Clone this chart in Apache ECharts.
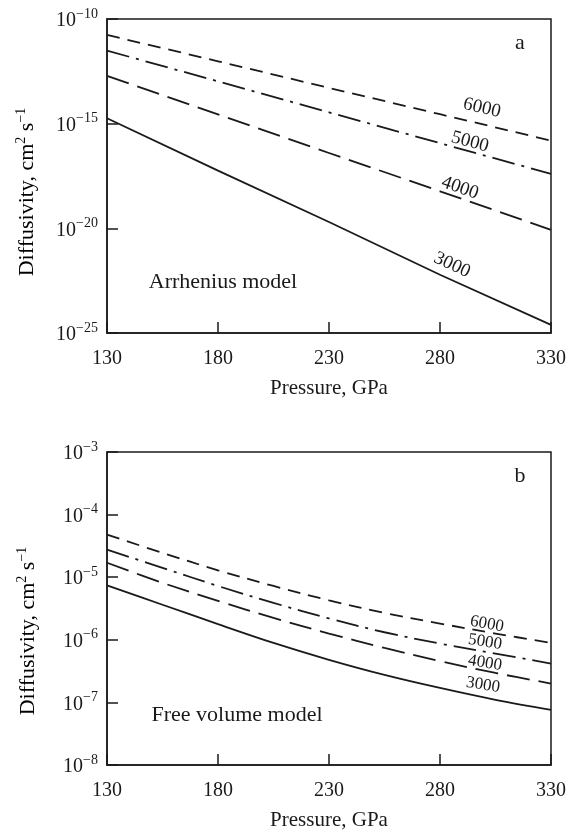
<!DOCTYPE html>
<html>
<head>
<meta charset="utf-8">
<script src="https://cdn.jsdelivr.net/npm/echarts@6/dist/echarts.min.js"></script>
<style>
  html, body { margin: 0; padding: 0; background: #fff; }
  #chart { width: 576px; height: 832px; }
</style>
</head>
<body>
<div id="chart"></div>
<script>
// Pressure grid for each panel (GPa)
var pressureTop = [130, 180, 230, 280, 330];
var pressureBottom = [130, 155, 180, 205, 230, 255, 280, 305, 330];

// (a) Arrhenius model, diffusivity in cm^2 s^-1
var arrhenius6000 = [1.74e-11, 9.55e-13, 5.13e-14, 2.82e-15, 1.55e-16];
var arrhenius5000 = [3.09e-12, 1.05e-13, 3.47e-15, 1.17e-16, 3.98e-18];
var arrhenius4000 = [1.91e-13, 2.75e-15, 3.98e-17, 5.89e-19, 8.51e-21];
var arrhenius3000 = [1.82e-15, 5.75e-18, 2.00e-20, 6.03e-23, 2.45e-25];

// (b) Free volume model
var freeVol6000 = [4.79e-5, 2.45e-5, 1.29e-5, 7.24e-6, 4.27e-6, 2.69e-6, 1.82e-6, 1.26e-6, 8.91e-7];
var freeVol5000 = [2.75e-5, 1.41e-5, 7.24e-6, 3.89e-6, 2.19e-6, 1.32e-6, 8.71e-7, 6.03e-7, 4.17e-7];
var freeVol4000 = [1.70e-5, 8.13e-6, 4.17e-6, 2.24e-6, 1.26e-6, 7.41e-7, 4.57e-7, 2.95e-7, 2.00e-7];
var freeVol3000 = [7.41e-6, 3.63e-6, 1.78e-6, 8.91e-7, 4.79e-7, 2.75e-7, 1.70e-7, 1.10e-7, 7.59e-8];

var temperatures = ['6000', '5000', '4000', '3000'];

// decade ranges of the two log axes (exponents)
var decadesTop = [-25, -10];
var decadesBottom = [-8, -3];

var ink = '#1a1a1a';
var serif = '"Liberation Serif", "DejaVu Serif", serif';

// dash patterns: short dash, dash-dot, long dash, solid
var dashTypes = [[13, 8], [23, 7, 3, 7], [23, 9], 'solid'];

// points on a log10 scale
function pairs(xs, ys) {
    return xs.map(function (x, i) { return [x, Math.log(ys[i]) / Math.LN10]; });
}

function powLabel(v) {
    var e = Math.round(v);
    return '{b|10}{s|' + (e < 0 ? '\u2212' + (-e) : e) + '}';
}

var labelRich = {
    b: { fontSize: 20, fontFamily: serif, color: ink, lineHeight: 24, verticalAlign: 'bottom' },
    s: { fontSize: 14, fontFamily: serif, color: ink, lineHeight: 16, verticalAlign: 'top' }
};

function makeX(idx) {
    return {
        gridIndex: idx,
        type: 'value',
        min: 130,
        max: 330,
        interval: 50,
        axisLine: { lineStyle: { color: ink, width: 1.5 } },
        axisTick: { inside: true, length: 11, lineStyle: { color: ink, width: 1.5 } },
        axisLabel: { fontSize: 20, fontFamily: serif, color: ink, margin: 16 },
        splitLine: { show: false },
        name: 'Pressure, GPa',
        nameLocation: 'middle',
        nameGap: 45,
        nameTextStyle: { fontSize: 21, fontFamily: serif, color: ink }
    };
}

function makeY(idx, range, interval) {
    return {
        gridIndex: idx,
        type: 'value',
        min: range[0],
        max: range[1],
        interval: interval,
        axisLine: { lineStyle: { color: ink, width: 1.5 } },
        axisTick: { inside: true, length: 11, lineStyle: { color: ink, width: 1.5 } },
        axisLabel: { formatter: powLabel, rich: labelRich, margin: 9 },
        splitLine: { show: false }
    };
}

function lineSeries(xi, data, dash, smooth) {
    return {
        type: 'line',
        xAxisIndex: xi,
        yAxisIndex: xi,
        data: data,
        symbol: 'none',
        smooth: smooth,
        silent: true,
        lineStyle: { color: ink, width: 1.8, type: dash }
    };
}

var topSets = [arrhenius6000, arrhenius5000, arrhenius4000, arrhenius3000];
var botSets = [freeVol6000, freeVol5000, freeVol4000, freeVol3000];

var series = [];
topSets.forEach(function (s, i) {
    series.push(lineSeries(0, pairs(pressureTop, s), dashTypes[i], false));
});
botSets.forEach(function (s, i) {
    series.push(lineSeries(1, pairs(pressureBottom, s), dashTypes[i], 0.35));
});

// curve labels, placed along each curve near the right end
var topLabelPos = [[482, 108, 13.4], [470, 142, 15.5], [460, 188, 19.1], [452, 265, 25]];
var botLabelPos = [[487, 624, 10], [485, 642, 9], [485, 663, 9], [483, 685, 9]];

var graphics = [];
function addText(x, y, text, size, rotDeg) {
    graphics.push({
        type: 'text',
        x: x,
        y: y,
        rotation: -(rotDeg || 0) * Math.PI / 180,
        silent: true,
        style: {
            text: text,
            fill: ink,
            font: size + 'px ' + serif,
            align: 'center',
            verticalAlign: 'middle'
        }
    });
}
temperatures.forEach(function (t, i) {
    addText(topLabelPos[i][0], topLabelPos[i][1], t, 19, topLabelPos[i][2]);
    addText(botLabelPos[i][0], botLabelPos[i][1], t, 17, botLabelPos[i][2]);
});
addText(520, 43, 'a', 22);
addText(520, 476, 'b', 22);
addText(223, 282, 'Arrhenius model', 22);
addText(237, 715, 'Free volume model', 22);

// y axis titles with superscripts
[[26, 192], [27, 631]].forEach(function (p) {
    graphics.push({
        type: 'text',
        x: p[0],
        y: p[1],
        rotation: Math.PI / 2,
        silent: true,
        style: {
            text: '{m|Diffusivity, cm}{s|2}{m| s}{s|\u22121}',
            align: 'center',
            verticalAlign: 'middle',
            rich: {
                m: { fontSize: 22, fontFamily: serif, color: ink, lineHeight: 24, verticalAlign: 'bottom' },
                s: { fontSize: 14, fontFamily: serif, color: ink, lineHeight: 18, verticalAlign: 'top' }
            }
        }
    });
});

var chart = echarts.init(document.getElementById('chart'), null, { renderer: 'canvas' });
chart.setOption({
    animation: false,
    backgroundColor: '#fff',
    grid: [
        { left: 107, top: 19, width: 444, height: 314, show: true, borderColor: ink, borderWidth: 1.5 },
        { left: 107, top: 452, width: 444, height: 315, show: true, borderColor: ink, borderWidth: 1.5 }
    ],
    xAxis: [makeX(0), makeX(1)],
    yAxis: [makeY(0, decadesTop, 5), makeY(1, decadesBottom, 1)],
    series: series,
    graphic: graphics
});
</script>
</body>
</html>
